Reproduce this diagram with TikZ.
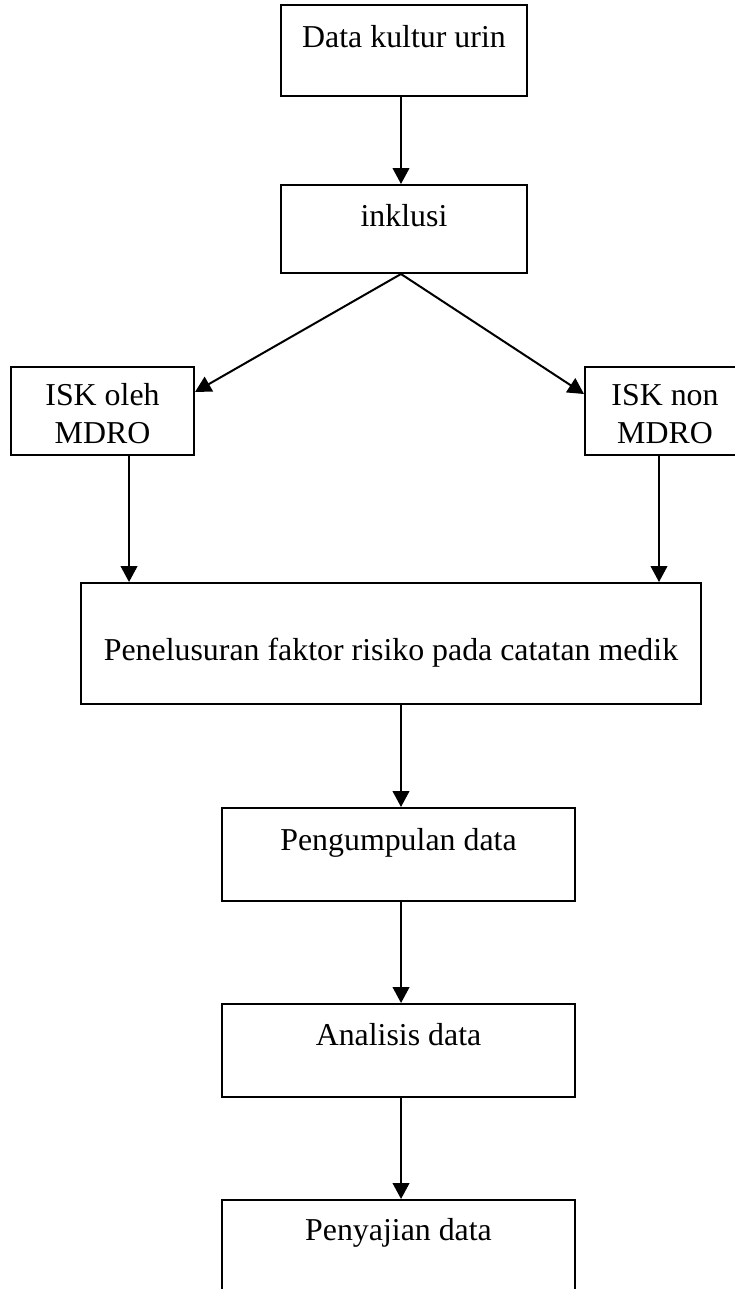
\documentclass[tikz,border=0pt]{standalone}
\usepackage{fontspec}
\setmainfont{Liberation Serif}
\usetikzlibrary{arrows.meta}
\begin{document}
\begin{tikzpicture}[x=0.75pt,y=-0.75pt,
  box/.style={draw,line width=1.5pt,rectangle,inner sep=0pt},
  lbl/.style={inner sep=0pt,anchor=base,font=\fontsize{23.9pt}{28pt}\selectfont},
  arr/.style={line width=1.5pt,-{Triangle[length=12pt,width=12.5pt]}}]
\useasboundingbox (0,0) rectangle (735,1289);
\clip (0,0) rectangle (735,1289);
% boxes
\node[box,minimum width=184.5pt,minimum height=68.25pt] (b1) at (404,50.5) {};
\node[box,minimum width=184.5pt,minimum height=66pt] (b2) at (404,229) {};
\node[box,minimum width=137.25pt,minimum height=66pt] (b3) at (102.5,411) {};
\node[box,minimum width=120pt,minimum height=66pt] (b4) at (665,411) {};
\node[box,minimum width=465pt,minimum height=90.75pt] (b5) at (391,643.5) {};
\node[box,minimum width=264.75pt,minimum height=69.75pt] (b6) at (398.5,854.5) {};
\node[box,minimum width=264.75pt,minimum height=69.75pt] (b7) at (398.5,1050.5) {};
\node[box,minimum width=264.75pt,minimum height=90pt] (b8) at (398.5,1260) {};
% texts
\node[lbl] (t1) at (404,47) {Data kultur urin};
\node[lbl] (t2) at (404,226) {inklusi};
\node[lbl] (t3a) at (102.5,405.7) {ISK oleh};
\node[lbl] (t3b) at (102.5,443) {MDRO};
\node[lbl] (t4a) at (665,405.7) {ISK non};
\node[lbl] (t4b) at (665,443) {MDRO};
\node[lbl] (t5) at (391,660) {Penelusuran faktor risiko pada catatan medik};
\node[lbl] (t6) at (398.5,850) {Pengumpulan data};
\node[lbl] (t7) at (398.5,1045.7) {Analisis data};
\node[lbl] (t8) at (398.5,1240) {Penyajian data};
% connectors
\draw[arr] ([xshift=-2.25pt]b1.south) -- ([xshift=-2.25pt]b2.north);
\draw[arr] ([xshift=-2.25pt]b2.south) -- ([yshift=-19.5pt]b3.north east);
\draw[arr] ([xshift=-2.25pt]b2.south) -- ([yshift=-21pt]b4.north west);
\draw[arr] ([xshift=19.9pt]b3.south) -- ([xshift=19.9pt]b3.south |- b5.north);
\draw[arr] ([xshift=-4.5pt]b4.south) -- ([xshift=-4.5pt]b4.south |- b5.north);
\draw[arr] ([xshift=7.5pt]b5.south) -- ([xshift=7.5pt]b5.south |- b6.north);
\draw[arr] ([xshift=1.9pt]b6.south) -- ([xshift=1.9pt]b7.north);
\draw[arr] ([xshift=1.9pt]b7.south) -- ([xshift=1.9pt]b8.north);
\end{tikzpicture}
\end{document}
